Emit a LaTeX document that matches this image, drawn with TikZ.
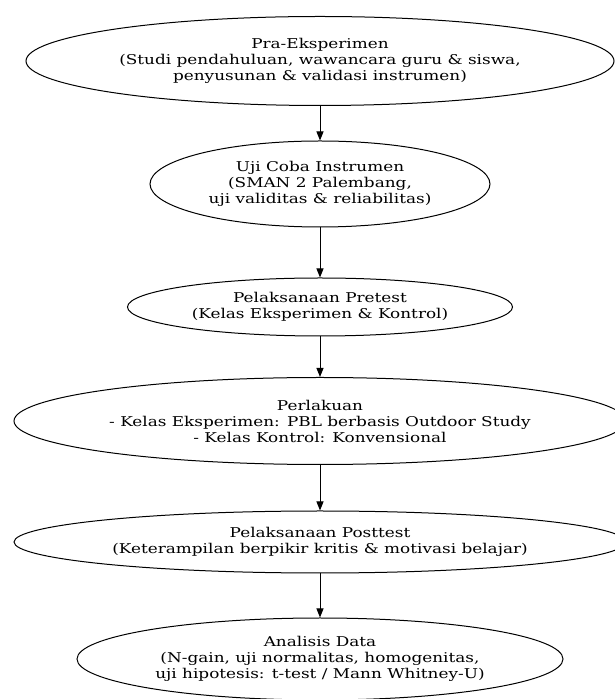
\documentclass[tikz,border=0pt]{standalone}
\usepackage{fontspec}
\setmainfont{DejaVu Serif}[FakeStretch=1.25]
\usetikzlibrary{shapes.geometric,arrows.meta}
\begin{document}
\begin{tikzpicture}[x=1pt,y=1pt,
  ell/.style={ellipse,draw,line width=1pt,inner sep=0pt,align=center,
    font=\fontsize{13.5}{16}\selectfont},
  conn/.style={line width=1pt,-{Triangle[length=9pt,width=7pt]}}]
\useasboundingbox (0,0) rectangle (615,699);
\node[ell,minimum width=588pt,minimum height=89pt] (a) at (320,638)
  {Pra-Eksperimen\\(Studi pendahuluan, wawancara guru \& siswa,\\penyusunan \& validasi instrumen)};
\node[ell,minimum width=340pt,minimum height=86pt] (b) at (320,515)
  {Uji Coba Instrumen\\(SMAN 2 Palembang,\\uji validitas \& reliabilitas)};
\node[ell,minimum width=385pt,minimum height=58pt] (c) at (320,392)
  {Pelaksanaan Pretest\\(Kelas Eksperimen \& Kontrol)};
\node[ell,minimum width=612pt,minimum height=87pt] (d) at (320,278)
  {Perlakuan\\- Kelas Eksperimen: PBL berbasis Outdoor Study\\- Kelas Kontrol: Konvensional};
\node[ell,minimum width=612pt,minimum height=62pt] (e) at (320,157)
  {Pelaksanaan Posttest\\(Keterampilan berpikir kritis \& motivasi belajar)};
\node[ell,minimum width=486pt,minimum height=82pt] (f) at (320,40)
  {Analisis Data\\(N-gain, uji normalitas, homogenitas,\\uji hipotesis: t-test / Mann Whitney-U)};
\draw[conn] (a) -- (b);
\draw[conn] (b) -- (c);
\draw[conn] (c) -- (d);
\draw[conn] (d) -- (e);
\draw[conn] (e) -- (f);
\end{tikzpicture}
\end{document}
